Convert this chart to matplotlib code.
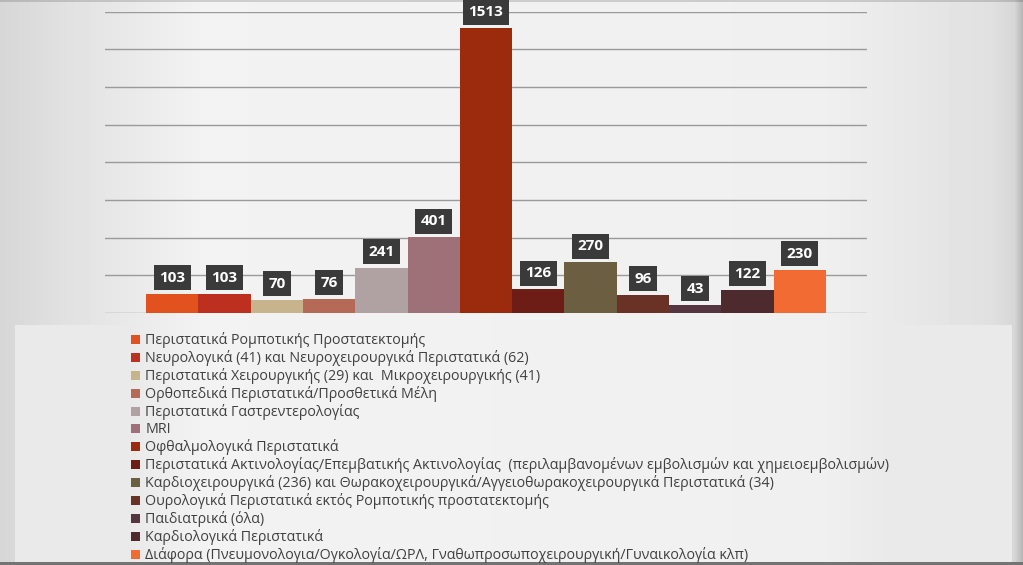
import numpy as np
import matplotlib
matplotlib.use('Agg')
import matplotlib.pyplot as plt
from matplotlib.patches import Patch

plt.rcParams['font.family'] = ['Open Sans', 'DejaVu Sans']

categories = [
    'Περιστατικά Ρομποτικής Προστατεκτομής',
    'Νευρολογικά (41) και Νευροχειρουργικά Περιστατικά (62)',
    'Περιστατικά Χειρουργικής (29) και  Μικροχειρουργικής (41)',
    'Ορθοπεδικά Περιστατικά/Προσθετικά Μέλη',
    'Περιστατικά Γαστρεντερολογίας',
    'MRI',
    'Οφθαλμολογικά Περιστατικά',
    'Περιστατικά Ακτινολογίας/Επεμβατικής Ακτινολογίας  (περιλαμβανομένων εμβολισμών και χημειοεμβολισμών)',
    'Καρδιοχειρουργικά (236) και Θωρακοχειρουργικά/Αγγειοθωρακοχειρουργικά Περιστατικά (34)',
    'Ουρολογικά Περιστατικά εκτός Ρομποτικής προστατεκτομής',
    'Παιδιατρικά (όλα)',
    'Καρδιολογικά Περιστατικά',
    'Διάφορα (Πνευμονολογια/Ογκολογία/ΩΡΛ, Γναθωπροσωποχειρουργική/Γυναικολογία κλπ)',
]
values = [103, 103, 70, 76, 241, 401, 1513, 126, 270, 96, 43, 122, 230]
colors = ['#e2521e', '#bd3020', '#c8b48c', '#b46a56', '#b0a2a2', '#9e7078',
          '#9c2a0c', '#6e1c16', '#6c5e40', '#6a3226', '#553540', '#4c2a2e', '#f26b32']

W, H = 1023, 565
fig = plt.figure(figsize=(W / 100, H / 100), dpi=100)

# background gradient
bg = fig.add_axes([0, 0, 1, 1], zorder=-10)
xs = np.arange(W)
col = np.interp(xs, [0, 60, 200, 820, 990, 1014, 1023],
                [0.84, 0.88, 0.95, 0.94, 0.88, 0.84, 0.70])
img = np.tile(col, (H, 1))
img[325:, 15:1012] = np.maximum(img[325:, 15:1012], 0.915)
img[:2, :] *= 0.85
img[562:, :] = 0.45
bg.imshow(img, cmap='gray', vmin=0, vmax=1, aspect='auto',
          interpolation='bilinear')
bg.axis('off')

ax = fig.add_axes([105 / W, (H - 313) / H, 762 / W, (313 - 11.7) / H])
ax.patch.set_alpha(0)
x = np.arange(len(values))
bars = ax.bar(x, values, width=1.0, color=colors, zorder=3)
ax.set_xlim(-0.5 - 0.785, len(values) - 0.5 + 0.785)
ax.set_ylim(0, 1600)
ax.set_yticks(np.arange(0, 1601, 200))
ax.yaxis.grid(True, color='#9a9a9a', linewidth=1.0, zorder=0)
ax.tick_params(left=False, bottom=False, labelleft=False, labelbottom=False)
for s in ax.spines.values():
    s.set_visible(False)

for b, v in zip(bars, values):
    ax.annotate(str(v), (b.get_x() + b.get_width() / 2, v),
                xytext=(0, 6.5), textcoords='offset points',
                ha='center', va='bottom', color='white', fontsize=11,
                fontweight='bold', zorder=5,
                bbox=dict(boxstyle='square,pad=0.36', fc='#3a3a3a', ec='none'))

handles = [Patch(facecolor=c, edgecolor='none') for c in colors]
fig.legend(handles, categories, loc='upper left',
           bbox_to_anchor=(124 / W, (H - 325) / H), frameon=False,
           fontsize=10.3, handlelength=0.6, handleheight=0.6,
           handletextpad=0.4, labelspacing=0.14, borderpad=0,
           labelcolor='#404040')

fig.savefig('out.png', dpi=100)
